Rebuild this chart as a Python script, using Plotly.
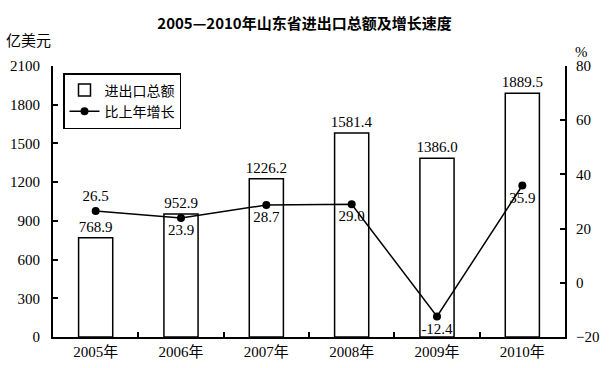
import plotly.graph_objects as go

years = ["2005年", "2006年", "2007年", "2008年", "2009年", "2010年"]
totals = [768.9, 952.9, 1226.2, 1581.4, 1386.0, 1889.5]
growth = [26.5, 23.9, 28.7, 29.0, -12.4, 35.9]
growth_pos = ["top center", "bottom center", "bottom center", "bottom center", "bottom center", "bottom center"]
left_ticks = [0, 300, 600, 900, 1200, 1500, 1800, 2100]
right_ticks = [-20, 0, 20, 40, 60, 80]

FONT = "Liberation Serif, Noto Sans CJK SC, serif"
CJK = "Noto Sans CJK SC, sans-serif"

fig = go.Figure()
fig.add_trace(go.Bar(
    x=years, y=totals, name="进出口总额",
    marker=dict(color="white", line=dict(color="black", width=1.5)),
    width=0.4,
    text=[f"{v:.1f}" for v in totals], textposition="outside",
    constraintext="none",
    textfont=dict(family=FONT, size=15, color="black"),
    cliponaxis=False,
))
fig.add_trace(go.Scatter(
    x=years, y=growth, name="比上年增长", yaxis="y2",
    mode="lines+markers+text",
    line=dict(color="black", width=1.5),
    marker=dict(color="black", size=8),
    text=[f"{v:.1f}" for v in growth], textposition=growth_pos,
    textfont=dict(family=FONT, size=15, color="black"),
    cliponaxis=False,
))

fig.update_layout(
    width=609, height=368,
    margin=dict(l=53, r=44, t=66, b=31, autoexpand=False),
    paper_bgcolor="white", plot_bgcolor="white",
    font=dict(family=FONT, size=14, color="black"),
    title=dict(text="<b>2005—2010年山东省进出口总额及增长速度</b>", x=0.5, xanchor="center",
               y=1 - 24/368, yanchor="middle", font=dict(family=CJK, size=15), automargin=False),
    showlegend=True,
    legend=dict(x=10/512, y=1 - 7/271, xanchor="left", yanchor="top",
                bordercolor="black", borderwidth=1.5, bgcolor="white",
                font=dict(family=CJK, size=14),
                itemwidth=30, tracegroupgap=0),
    bargap=0.6,
    xaxis=dict(showline=True, linecolor="black", linewidth=2, ticks="inside",
               tickson="boundaries", ticklen=5, tickcolor="black", tickwidth=1.5,
               showgrid=False, tickfont=dict(family=FONT, size=15), range=[-0.5, 5.5],
               automargin=False),
    yaxis=dict(range=[0, 2100], tickvals=left_ticks, showline=True, linecolor="black",
               linewidth=2, ticks="inside", ticklen=5, tickcolor="black", tickwidth=1.5,
               showgrid=False, zeroline=False, ticklabelstandoff=8, automargin=False,
               tickfont=dict(family=FONT, size=15)),
    yaxis2=dict(range=[-20, 80], tickvals=right_ticks, overlaying="y", side="right",
                showline=True, linecolor="black", linewidth=2, ticks="inside", ticklen=5,
                tickcolor="black", tickwidth=1.5, showgrid=False, zeroline=False,
                ticklabelstandoff=6, automargin=False, tickfont=dict(family=FONT, size=15)),
    annotations=[
        dict(text="亿美元", x=-25/512, y=1.0 + 26/271, xref="paper", yref="paper", showarrow=False,
             xanchor="center", yanchor="middle", font=dict(family=CJK, size=15)),
        dict(text="%", x=1.0 + 8/512, y=1.0 + 14/271, xref="paper", yref="paper", showarrow=False,
             xanchor="left", yanchor="middle", font=dict(family=FONT, size=15)),
    ],
)

fig.write_html("out.html", config={"displayModeBar": False},
               post_script="document.body.style.margin='0px';")
